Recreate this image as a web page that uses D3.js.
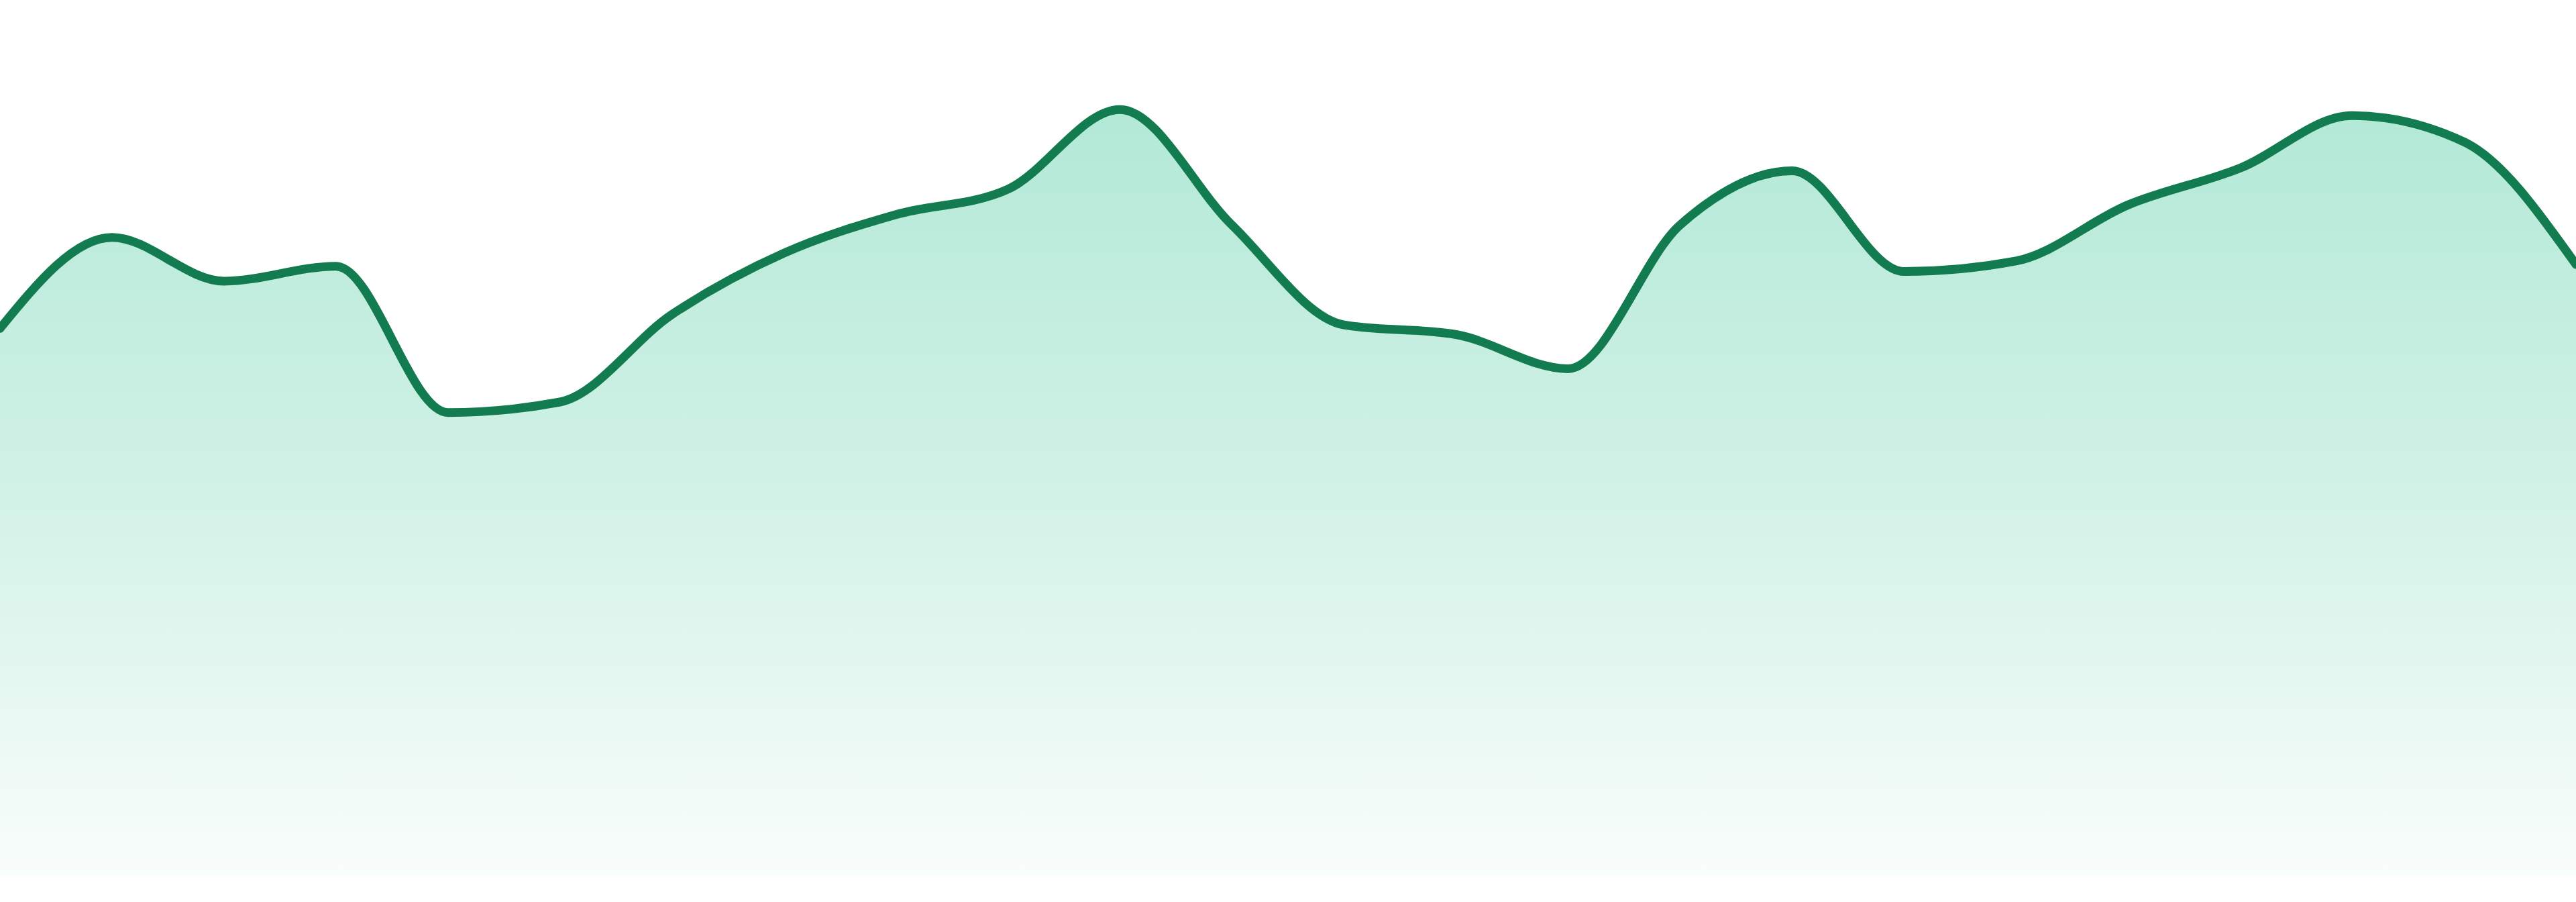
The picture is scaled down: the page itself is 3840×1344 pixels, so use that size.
<!DOCTYPE html>
<html>
<head>
<meta charset="utf-8">
<script src="https://cdn.jsdelivr.net/npm/d3@7"></script>
<style>
  html, body { margin: 0; padding: 0; background: #ffffff; overflow: hidden; }
  svg { display: block; }
</style>
</head>
<body>
<svg id="chart"></svg>
<script>
// ---- data ----
const categories = ["1","2","3","4","5","6","7","8","9","10","11","12",
                    "13","14","15","16","17","18","19","20","21","22","23","24"];
const values = [62.5, 72.9, 67.9, 69.6, 52.9, 54.1, 64.1, 71.1, 75.5, 78.4, 87.5, 74.3,
                62.9, 61.8, 57.9, 74.3, 80.5, 69.0, 70.2, 76.6, 80.8, 86.8, 83.8, 69.8];
const yDomain = [0, 100];

// ---- layout ----
const W = 3840, H = 1344;
const baseY = 1305;

const svg = d3.select("#chart").attr("width", W).attr("height", H);

const x = d3.scalePoint().domain(categories).range([0, W]);
const y = d3.scaleLinear().domain(yDomain).range([baseY, 0]);

const data = categories.map((c, i) => ({ c, v: values[i] }));

const defs = svg.append("defs");
const grad = defs.append("linearGradient")
  .attr("id", "fillGrad")
  .attr("gradientUnits", "userSpaceOnUse")
  .attr("x1", 0).attr("x2", 0)
  .attr("y1", y(d3.max(values))).attr("y2", baseY);
grad.append("stop").attr("offset", "0%").attr("stop-color", "#10b981").attr("stop-opacity", 0.32);
grad.append("stop").attr("offset", "50%").attr("stop-color", "#10b981").attr("stop-opacity", 0.19);
grad.append("stop").attr("offset", "100%").attr("stop-color", "#10b981").attr("stop-opacity", 0.025);

const area = d3.area()
  .x(d => x(d.c))
  .y0(y(0))
  .y1(d => y(d.v))
  .curve(d3.curveMonotoneX);

const line = d3.line()
  .x(d => x(d.c))
  .y(d => y(d.v))
  .curve(d3.curveMonotoneX);

svg.append("path")
  .datum(data)
  .attr("d", area)
  .attr("fill", "url(#fillGrad)");

svg.append("path")
  .datum(data)
  .attr("d", line)
  .attr("fill", "none")
  .attr("stroke", "#127b50")
  .attr("stroke-width", 13)
  .attr("stroke-linejoin", "round")
  .attr("stroke-linecap", "round");
</script>
</body>
</html>
